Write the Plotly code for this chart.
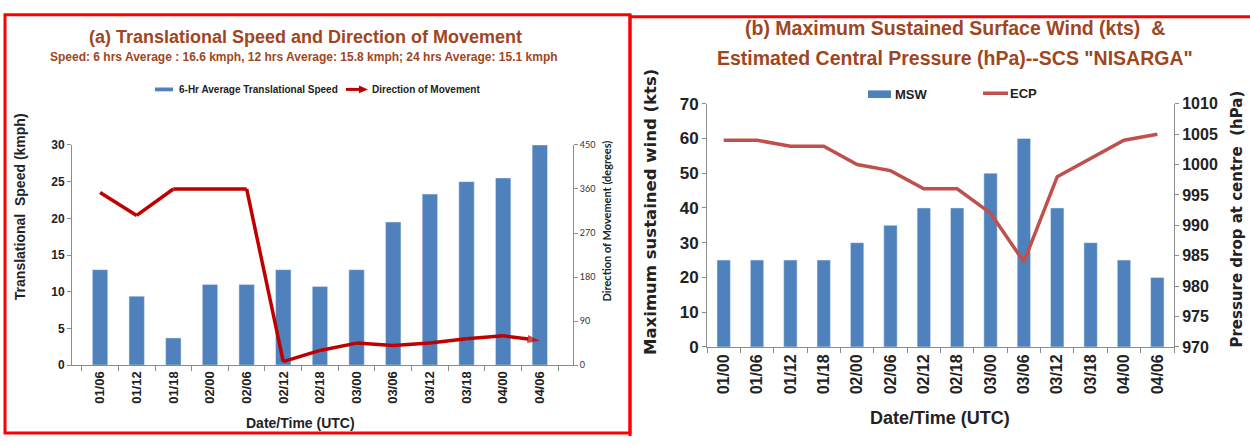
import plotly.graph_objects as go

# ---- Panel (a): translational speed and direction of movement ----
times_a = ["01/06", "01/12", "01/18", "02/00", "02/06", "02/12", "02/18",
           "03/00", "03/06", "03/12", "03/18", "04/00", "04/06"]
speed_kmph = [13, 9.4, 3.7, 11, 11, 13, 10.7, 13, 19.5, 23.3, 25, 25.5, 30]
direction_deg = [353, 306, 360, 360, 360, 7, 30, 45, 40, 45, 54, 60, 50]

# ---- Panel (b): MSW and ECP for SCS "NISARGA" ----
times_b = ["01/00", "01/06", "01/12", "01/18", "02/00", "02/06", "02/12",
           "02/18", "03/00", "03/06", "03/12", "03/18", "04/00", "04/06"]
msw_kts = [25, 25, 25, 25, 30, 35, 40, 40, 50, 60, 40, 30, 25, 20]
ecp_hpa = [1004, 1004, 1003, 1003, 1000, 999, 996, 996, 992, 984, 998, 1001, 1004, 1005]

W, H = 1250, 445
LIB = "Liberation Sans, Arial, sans-serif"
DEJA = "DejaVu Sans, sans-serif"
BROWN = "#A0461E"
BLUE = "#4F81BD"
AXIS_GREY = "#8C8C8C"


def px(x):
    return x / W


def py(y):
    return 1 - y / H


fig = go.Figure()

fig.add_trace(go.Bar(x=times_a, y=speed_kmph, marker_color=BLUE, xaxis="x", yaxis="y",
                     name="6-Hr Average Translational Speed", showlegend=False))
n = len(direction_deg)
fig.add_trace(go.Scatter(x=times_a, y=direction_deg, mode="lines+markers", xaxis="x", yaxis="y2",
                         line=dict(color="#C00000", width=3.5),
                         marker=dict(symbol=["circle"] * (n - 1) + ["arrow"],
                                     size=[0] * (n - 1) + [13], angleref="previous",
                                     color="#C00000", line=dict(width=0)),
                         name="Direction of Movement", showlegend=False))
fig.add_trace(go.Bar(x=times_b, y=msw_kts, marker_color=BLUE, xaxis="x2", yaxis="y3",
                     name="MSW", showlegend=False, width=0.4))
fig.add_trace(go.Scatter(x=times_b, y=ecp_hpa, mode="lines", xaxis="x2", yaxis="y4",
                         line=dict(color="#C0504D", width=3.5), name="ECP", showlegend=False))

common_x = dict(type="category", tickangle=-90, tickson="boundaries", ticks="outside", ticklen=5,
                tickcolor=AXIS_GREY, showline=True, linecolor=AXIS_GREY, showgrid=False,
                zeroline=False)
common_y = dict(ticks="outside", ticklen=4, tickcolor=AXIS_GREY, showline=True, linecolor=AXIS_GREY,
                showgrid=False, zeroline=False)

fig.update_layout(
    width=W, height=H, margin=dict(l=0, r=0, t=0, b=0),
    paper_bgcolor="white", plot_bgcolor="white", bargap=0.58, showlegend=False,
    xaxis=dict(common_x, domain=[px(72), px(573)], anchor="y",
               tickfont=dict(family=LIB, size=13, color="#222", weight="bold")),
    yaxis=dict(common_y, domain=[py(372), py(142)], anchor="x", range=[0, 30], dtick=5,
               tickfont=dict(family=LIB, size=12, color="#222", weight="bold")),
    yaxis2=dict(common_y, overlaying="y", side="right", anchor="x", range=[0, 450], dtick=90,
                tickfont=dict(family="Lato, sans-serif", size=9, color="#333")),
    xaxis2=dict(common_x, domain=[px(707), px(1174)], anchor="y3",
                tickfont=dict(family=LIB, size=16, color="#222", weight="bold")),
    yaxis3=dict(common_y, domain=[py(353), py(99)], anchor="x2", range=[0, 70], dtick=10,
                tickfont=dict(family=LIB, size=17, color="#222", weight="bold")),
    yaxis4=dict(common_y, overlaying="y3", side="right", anchor="x2", range=[970, 1010], dtick=5,
                tickfont=dict(family=LIB, size=16, color="#222", weight="bold")),
)

ann = []


def text(x, y, s, size, family=LIB, color="#222", bold=True, angle=0, xanchor="center"):
    ann.append(dict(x=px(x), y=py(y), xref="paper", yref="paper", text=s, showarrow=False,
                    textangle=angle, xanchor=xanchor, yanchor="middle",
                    font=dict(family=family, size=size, color=color,
                              weight="bold" if bold else "normal")))


# titles
text(305, 29, "(a) Translational Speed and Direction of Movement", 18, color=BROWN)
text(304, 50, "Speed: 6 hrs Average : 16.6 kmph, 12 hrs Average: 15.8 kmph; 24 hrs Average: 15.1 kmph",
     12, color=BROWN)
text(955, 20, "(b) Maximum Sustained Surface Wind (kts)  &", 19.5, color=BROWN)
text(955, 51, "Estimated Central Pressure (hPa)--SCS \"NISARGA\"", 19.5, color=BROWN)

# axis titles
text(20, 207, "Translational  Speed (kmph)", 14, angle=-90)
text(607, 222, "Direction of Movement (degrees)", 11, family="Lato, sans-serif", angle=-90)
text(300, 432, "Date/Time (UTC)", 14)
text(651, 212, "Maximum sustained wind (kts)", 16.5, family=DEJA, angle=-90)
text(1237, 220, "Pressure drop at centre  (hPa)", 15, family=DEJA, angle=-90)
text(940, 427, "Date/Time (UTC)", 18)

# legend labels
text(177, 84, "6-Hr Average Translational Speed", 10, xanchor="left")
text(370, 84, "Direction of Movement", 10, xanchor="left")
text(893, 89, "MSW", 13, xanchor="left")
text(1008, 88, "ECP", 13, xanchor="left")
fig.update_layout(annotations=ann)

shapes = []


def rect_px(x0, y0, x1, y1, **kw):
    shapes.append(dict(type="rect", xref="paper", yref="paper", x0=px(x0), x1=px(x1),
                       y0=py(y1), y1=py(y0), **kw))


def line_px(x0, y0, x1, y1, **kw):
    shapes.append(dict(type="line", xref="paper", yref="paper", x0=px(x0), x1=px(x1),
                       y0=py(y0), y1=py(y1), **kw))


# legend keys
rect_px(155, 82, 173, 86, fillcolor=BLUE, line=dict(width=0))
line_px(346, 84, 360, 84, line=dict(color="#C00000", width=3))
shapes.append(dict(type="path", xref="paper", yref="paper",
                   path=f"M {px(359)},{py(80)} L {px(368)},{py(84)} L {px(359)},{py(88)} Z",
                   fillcolor="#C00000", line=dict(width=0)))
rect_px(868, 85, 891, 93, fillcolor=BLUE, line=dict(width=0))
line_px(983, 88, 1008, 88, line=dict(color="#C0504D", width=3.5))

# panel frames
rect_px(5, 6, 630, 443, line=dict(color="#FF0000", width=3))
line_px(630, 8, 1252, 8, line=dict(color="#FF0000", width=3))
line_px(630, 6, 630, 446, line=dict(color="#FF0000", width=3))
fig.update_layout(shapes=shapes)

fig.write_html("out.html")
